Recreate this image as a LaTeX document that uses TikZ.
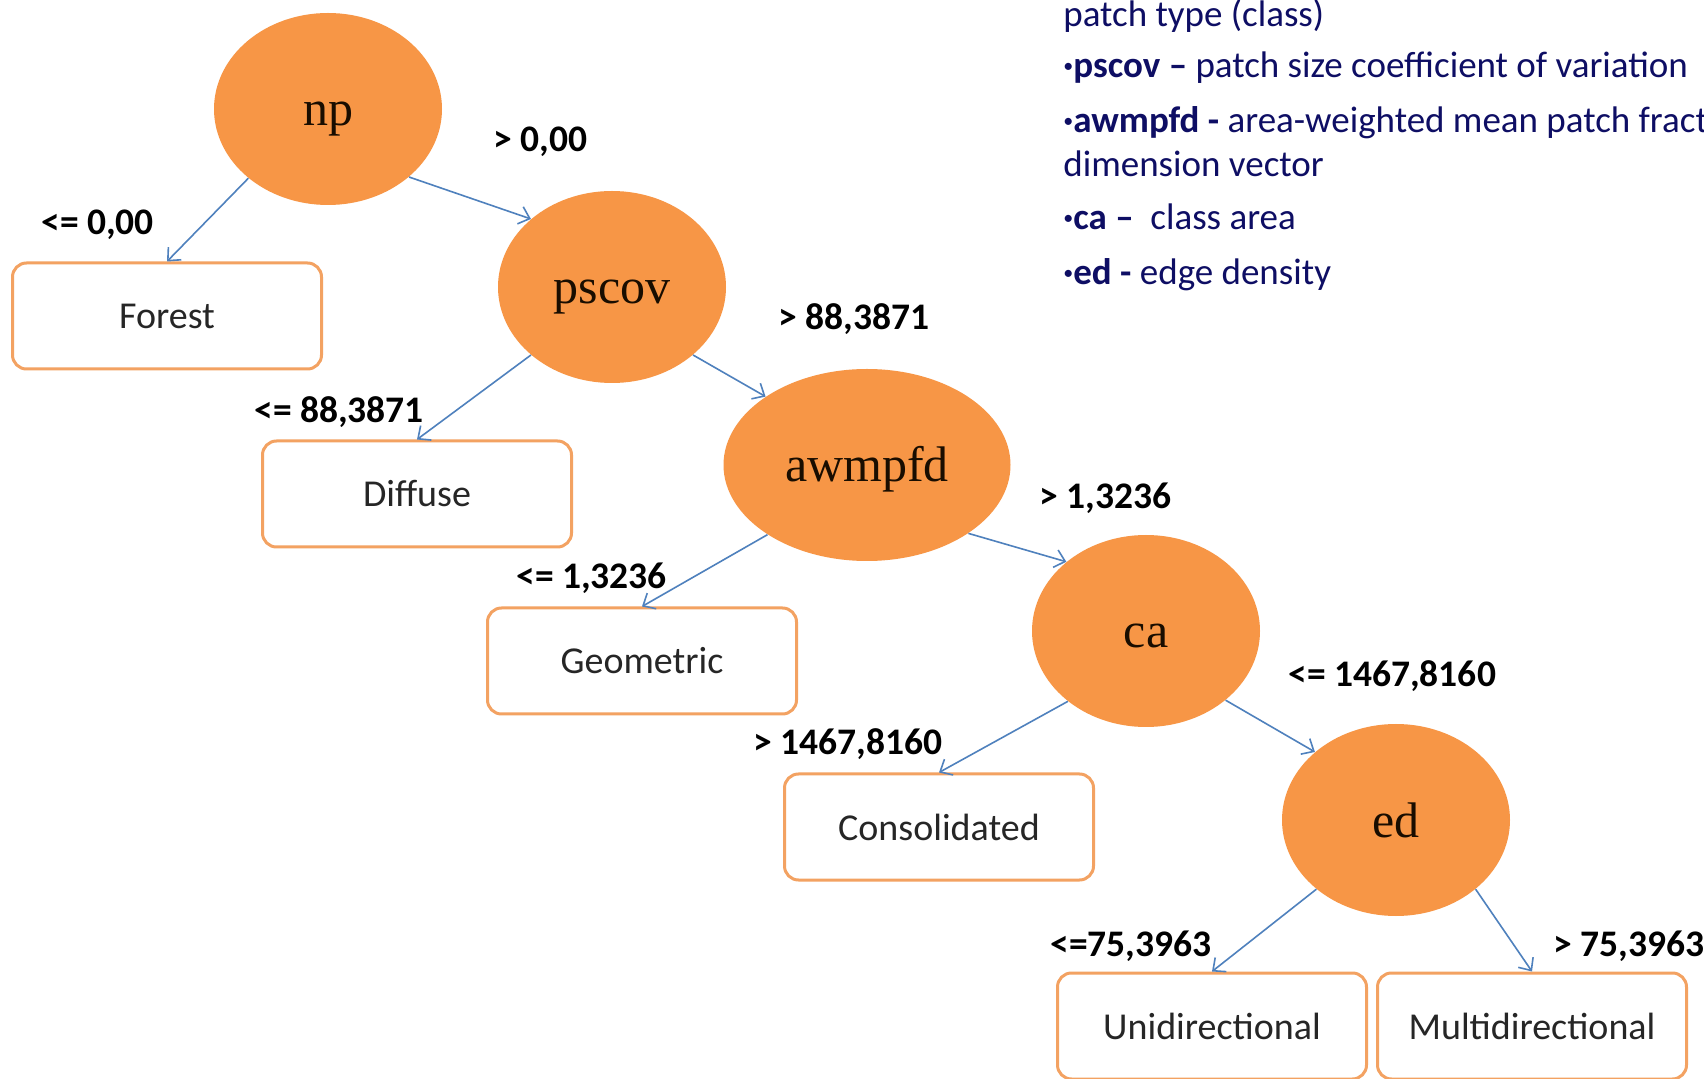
\documentclass[tikz,border=0pt]{standalone}
\usepackage{fontspec}
\setmainfont{Carlito}
\newfontfamily\tnr{Liberation Serif}
\usetikzlibrary{arrows.meta,shapes.geometric}
\definecolor{orfill}{HTML}{F79646}
\definecolor{boxline}{HTML}{F3A262}
\definecolor{arrowblue}{HTML}{4F81BD}
\definecolor{legnavy}{RGB}{14,14,100}
\newcommand\lbul{\raisebox{2.5pt}{\fontsize{10}{10}\selectfont\textbullet}}
\begin{document}
\begin{tikzpicture}[x=0.5pt,y=-0.5pt,
  dnode/.style={ellipse, fill=orfill, draw=none, minimum width=114pt, minimum height=96pt, inner sep=0pt,
    text height=20pt, text depth=3pt,
    font=\tnr\fontsize{25}{30}\selectfont, text=black!90!orange},
  leaf/.style={rectangle, rounded corners=7pt, draw=boxline, line width=1.5pt, fill=white,
    minimum width=154.5pt, minimum height=53pt, font=\fontsize{19}{23}\selectfont, text=black!85},
  cond/.style={anchor=base west, inner sep=0pt, font=\bfseries\fontsize{18.75}{22}\selectfont},
  conn/.style={draw=arrowblue, line width=0.8pt, -{Straight Barb[length=5pt,width=9pt]}},
  legtxt/.style={anchor=base west, inner sep=0pt, text=legnavy, font=\fontsize{18.5}{22}\selectfont}]
\useasboundingbox (0,0) rectangle (1704,1079);
\clip (0,0) rectangle (1704,1079);
\fill[white] (0,0) rectangle (1704,1079);

% decision nodes
\node[dnode] (np) at (328,109) {np};
\node[dnode] (pscov) at (612,287) {pscov};
\node[dnode, minimum width=143.5pt] (awmpfd) at (867,465) {awmpfd};
\node[dnode] (ca) at (1146,631) {ca};
\node[dnode] (ed) at (1396,820) {ed};

% leaves
\node[leaf] (Forest) at (167,316) {Forest};
\node[leaf] (Diffuse) at (417,494) {Diffuse};
\node[leaf] (Geometric) at (642,661) {Geometric};
\node[leaf] (Consolidated) at (939,827) {Consolidated};
\node[leaf] (Unidirectional) at (1212,1026) {Unidirectional};
\node[leaf] (Multidirectional) at (1532,1026) {Multidirectional};

% connectors
\draw[conn] (np.221) -- (Forest.north);
\draw[conn] (np.-40) -- (pscov.140);
\draw[conn] (pscov.220) -- (Diffuse.north);
\draw[conn] (pscov.-40) -- (awmpfd.146);
\draw[conn] (awmpfd.215) -- (Geometric.north);
\draw[conn] (awmpfd.-34) -- (ca.139);
\draw[conn] (ca.222) -- (Consolidated.north);
\draw[conn] (ca.-41) -- (ed.140);
\draw[conn] (ed.221) -- (Unidirectional.north);
\draw[conn] (ed.-41) -- (Multidirectional.north);

% conditions
\node[cond] (c1) at (41,235) {<= 0,00};
\node[cond] (c2) at (493,152) {> 0,00};
\node[cond] (c3) at (254,423) {<= 88,3871};
\node[cond] (c4) at (778,330) {> 88,3871};
\node[cond] (c5) at (516,589) {<= 1,3236};
\node[cond] (c6) at (1039,509) {> 1,3236};
\node[cond] (c7) at (753,755) {> 1467,8160};
\node[cond] (c8) at (1288,687) {<= 1467,8160};
\node[cond] (c9) at (1050,956) {<=75,3963};
\node[cond] (c10) at (1553,956) {> 75,3963};

% legend
\node[legtxt] (l0) at (1063,27) {patch type (class)};
\node[legtxt] (l1) at (1063,78) {\lbul\textbf{pscov --} patch size coefficient of variation};
\node[legtxt] (l2) at (1063,133) {\lbul\textbf{awmpfd -} area-weighted mean patch fractal};
\node[legtxt] (l3) at (1063,177) {dimension vector};
\node[legtxt] (l4) at (1063,230) {\lbul\textbf{ca --}\ \ class area};
\node[legtxt] (l5) at (1063,285) {\lbul\textbf{ed -} edge density};
\end{tikzpicture}
\end{document}
